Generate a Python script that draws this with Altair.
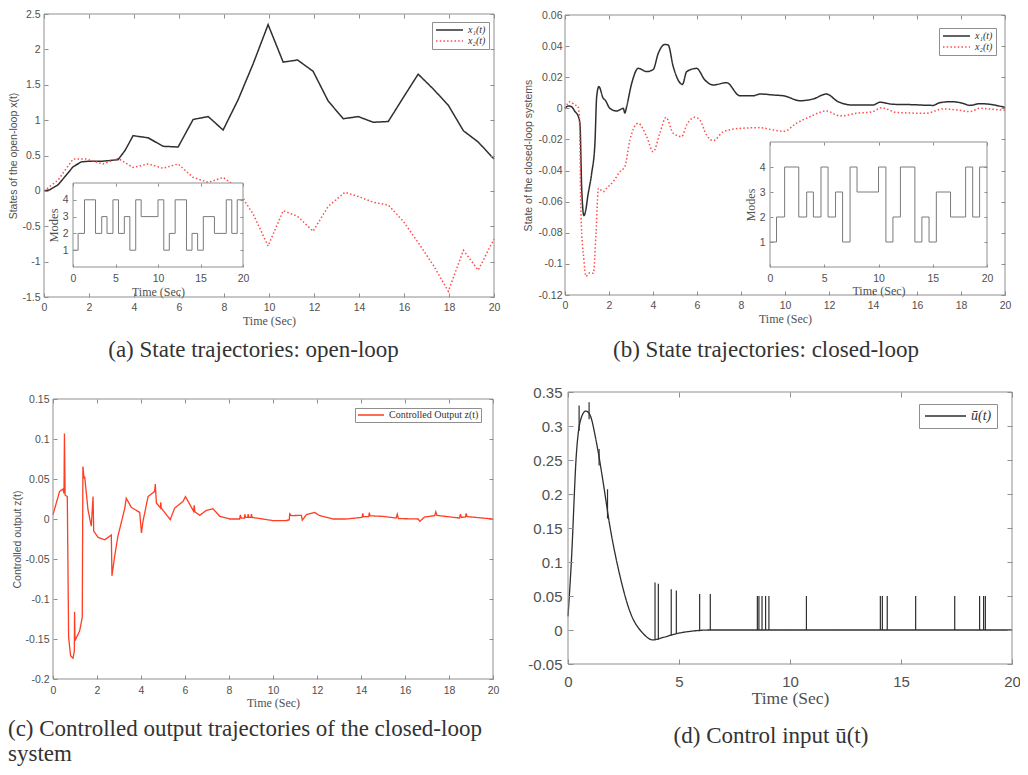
import altair as alt
import pandas as pd

# ---------------- data ----------------
# (a) open-loop states
a_t1 = [0, 0.25, 0.62, 0.99, 1.29, 1.66, 2.03, 2.62, 3.29, 3.6, 3.96, 4.63, 5.29, 5.96, 6.63, 7.3, 7.96, 8.63, 9.3, 9.96,
        10.63, 11.27, 11.96, 12.63, 13.3, 13.97, 14.63, 15.3, 15.97, 16.63, 17.3, 17.97, 18.64, 19.3, 20]
a_x1 = [0, 0.014, 0.084, 0.223, 0.34, 0.41, 0.42, 0.42, 0.44, 0.57, 0.78, 0.75, 0.63, 0.62, 1.01, 1.05, 0.86, 1.29, 1.80, 2.35,
        1.82, 1.85, 1.69, 1.27, 1.02, 1.05, 0.97, 0.98, 1.32, 1.65, 1.44, 1.21, 0.85, 0.69, 0.45]
a_t2 = [0, 0.62, 1.29, 1.88, 2.62, 3.29, 3.96, 4.63, 5.29, 5.96, 6.63, 7.3, 7.96, 8.63, 8.93, 9.3, 9.96, 10.63, 11.27, 11.96,
        12.63, 13.37, 13.97, 14.63, 15.3, 15.97, 16.63, 17.3, 17.97, 18.64, 19.3, 20]
a_x2 = [0, 0.15, 0.45, 0.45, 0.38, 0.46, 0.33, 0.38, 0.32, 0.38, 0.19, 0.12, 0.19, 0.04, -0.15, -0.33, -0.78, -0.28, -0.36, -0.57,
        -0.22, -0.02, -0.08, -0.16, -0.2, -0.43, -0.73, -1.05, -1.42, -0.84, -1.12, -0.68]

# (b) closed-loop states
b_t1 = [0, 0.15, 0.3, 0.45, 0.6, 0.68, 0.76, 0.86, 0.95, 1.03, 1.21, 1.36, 1.44, 1.54, 1.74, 1.82, 2.04, 2.35, 2.65, 2.72,
        2.8, 3.03, 3.33, 3.71, 4.01, 4.24, 4.54, 4.69, 4.92, 5.34, 5.53, 5.98, 6.36, 6.74, 7.34, 7.95, 8.55, 8.86, 9.46, 9.99,
        10.68, 11.28, 11.88, 12.41, 13.1, 14.0, 14.31, 14.91, 15.67, 16.73, 17.03, 17.56, 18.09, 18.4, 18.85, 19.3, 20]
b_x1 = [0, 0.0015, 0.001, -0.002, -0.005, -0.01, -0.052, -0.069, -0.065, -0.057, -0.042, -0.0225, 0.0075, 0.014, 0.0064,
        0.0054, 0, -0.0017, 0, -0.003, 0.001, 0.016, 0.0257, 0.0236, 0.025, 0.0354, 0.0411, 0.0407, 0.0268, 0.0154,
        0.0236, 0.0257, 0.0182, 0.015, 0.0165, 0.0081, 0.0081, 0.0092, 0.0086, 0.0079, 0.0049, 0.006, 0.0092, 0.0043,
        0.0021, 0.0021, 0.0039, 0.0026, 0.0024, 0.0019, 0.0036, 0.0043, 0.0032, 0.0019, 0.003, 0.0026, 0.0006]
b_t2 = [0, 0.23, 0.45, 0.58, 0.65, 0.73, 0.86, 0.95, 1.14, 1.29, 1.41, 1.52, 1.74, 1.89, 2.2, 2.5, 2.72, 2.95, 3.33, 3.71,
        4.01, 4.31, 4.59, 4.92, 5.3, 5.53, 5.9, 6.13, 6.43, 6.74, 7.2, 7.95, 8.86, 9.46, 9.95, 10.52, 11.13, 11.88, 12.49,
        13.25, 14.0, 14.38, 15.06, 16.42, 17.18, 17.86, 18.4, 18.85, 19.3, 20]
b_x2 = [0, 0.0043, 0.0021, 0.0015, -0.005, -0.07, -0.0975, -0.108, -0.1056, -0.106, -0.08, -0.0514, -0.0536, -0.0514,
        -0.047, -0.0407, -0.0375, -0.0204, -0.0096, -0.0182, -0.0279, -0.016, -0.0058, -0.016, -0.0182, -0.0107, -0.0058,
        -0.0075, -0.0171, -0.0208, -0.015, -0.0129, -0.0124, -0.0139, -0.0148, -0.0096, -0.0054, -0.0017, -0.0049,
        -0.0032, -0.0021, 0.0004, -0.0026, -0.0032, -0.0004, -0.0011, -0.0021, 0, -0.0004, -0.0013]

# (c) controlled output
c_t = [0, 0.15, 0.3, 0.45, 0.5, 0.52, 0.55, 0.65, 0.71, 0.8, 0.91, 0.97, 0.98, 1.0, 1.21, 1.33, 1.36, 1.41, 1.44, 1.59,
       1.74, 1.82, 1.85, 2.05, 2.35, 2.65, 2.68, 2.8, 2.95, 3.26, 3.33, 3.56, 3.94, 4.02, 4.09, 4.32, 4.62, 4.65, 4.7, 4.88,
       4.9, 4.92, 5.33, 5.53, 5.91, 6.02, 6.21, 6.39, 6.42, 6.45, 6.67, 6.97, 7.27, 7.58, 8.03, 8.48, 8.52, 8.55, 8.7, 8.72,
       8.75, 8.85, 8.87, 8.9, 9.0, 9.02, 9.05, 9.3, 10.0, 10.6, 10.74, 10.76, 10.83, 11.29, 11.33, 11.52, 11.89, 12.12, 12.73,
       13.33, 14.05, 14.08, 14.11, 14.35, 14.38, 14.41, 15.0, 15.6, 15.65, 15.7, 16.6, 16.67, 16.89, 17.35, 17.4, 17.45,
       18.48, 18.52, 18.56, 18.75, 18.78, 18.82, 20]
c_z = [0.0054, 0.02, 0.0345, 0.0374, 0.032, 0.107, 0.03, 0.028, -0.148, -0.171, -0.174, -0.165, -0.116, -0.152, -0.14,
       -0.123, 0.0656, 0.051, 0.053, 0.0116, -0.009, 0.028, -0.015, -0.023, -0.026, -0.02, -0.071, -0.047, -0.0216, 0.013,
       0.026, 0.0145, 0.0083, -0.0175, -0.003, 0.028, 0.0345, 0.0436, 0.02, 0.014, 0.021, 0.0137, -0.0008, 0.0137, 0.022,
       0.028, 0.0187, 0.0096, 0.017, 0.009, 0.0046, 0.0108, 0.0129, 0.0033, 0, 0, 0.005, 0.001, 0.001, 0.006,
       0.002, 0.002, 0.006, 0.002, 0.002, 0.006, 0.002, 0.001, -0.002, -0.002, -0.001, 0.0065, 0.0042, 0.0046, -0.0015,
       0.0054, 0.0083, 0.0042, 0, 0, 0.002, 0.007, 0.003, 0.003, 0.008, 0.004, 0.0033, 0.0012, 0.006, 0.0005,
       0, -0.003, 0.0025, 0.0042, 0.009, 0.0045, 0.0012, 0.006, 0.002, 0.0025, 0.007, 0.003, 0]

# (d) control input: smooth part and short spikes
d_t = [0, 0.15, 0.38, 0.6, 0.8, 0.98, 1.28, 1.58, 1.88, 2.33, 2.78, 3.38, 3.83, 4.28, 4.88, 5.63, 6.38, 8, 20]
d_u = [0.02, 0.1, 0.26, 0.3125, 0.322, 0.317, 0.276, 0.218, 0.154, 0.081, 0.028, -0.005, -0.0146, -0.011, -0.0054,
       -0.0015, 0, 0, 0]
d_spike_t = [0.5, 0.95, 1.4, 1.78, 3.92, 4.07, 4.65, 4.88, 5.93, 6.41, 8.53, 8.6, 8.74, 8.9, 9.05, 10.74, 14.07, 14.16,
             14.38, 15.66, 17.42, 18.54, 18.72, 18.8]
d_spike_lo = [0.293, 0.31, 0.242, 0.164, -0.0145, -0.0143, -0.008, -0.0054, -0.002, 0, 0, 0, 0, 0, 0, 0, 0, 0,
              0, 0, 0, 0, 0, 0]
d_spike_hi = [0.33, 0.335, 0.266, 0.207, 0.07, 0.068, 0.06, 0.058, 0.053, 0.053, 0.05, 0.05, 0.05, 0.05, 0.05, 0.05,
              0.05, 0.05, 0.05, 0.05, 0.05, 0.05, 0.05, 0.05]

# switching modes (insets)
m_t = [0, 0.6, 1.35, 2.65, 3.38, 4.0, 4.7, 5.35, 6.04, 6.69, 7.38, 8.02, 10.0, 10.68, 11.33, 12.02, 13.35, 14.0, 14.66,
       15.33, 16.64, 18.03, 18.68, 19.32, 20]
m_v = [1, 2, 4, 2, 3, 2, 4, 2, 3, 1, 4, 3, 4, 1, 2, 4, 1, 2, 1, 3, 2, 4, 2, 4, 4]

# labels
ab_series = ["x\u2081(t)", "x\u2082(t)"]
c_series = ["Controlled Output z(t)"]
d_series = ["\u016b(t)"]
captions = ["(a) State trajectories: open-loop", "(b) State trajectories: closed-loop",
            "(c) Controlled output trajectories of the closed-loop", "system", "(d) Control input \u016b(t)"]
time_title = "Time (Sec)"

# tick values
x_even = [0, 2, 4, 6, 8, 10, 12, 14, 16, 18, 20]
x_five = [0, 5, 10, 15, 20]
a_yticks = [-1.5, -1, -0.5, 0, 0.5, 1, 1.5, 2, 2.5]
b_yticks = [-0.12, -0.1, -0.08, -0.06, -0.04, -0.02, 0, 0.02, 0.04, 0.06]
c_yticks = [-0.2, -0.15, -0.1, -0.05, 0, 0.05, 0.1, 0.15]
d_yticks = [-0.05, 0, 0.05, 0.1, 0.15, 0.2, 0.25, 0.3, 0.35]
m_yticks = [1, 2, 3, 4]

assert len(a_t1) == len(a_x1) and len(a_t2) == len(a_x2)
assert len(b_t1) == len(b_x1) and len(b_t2) == len(b_x2)
assert len(c_t) == len(c_z) and len(d_t) == len(d_u)
assert len(d_spike_t) == len(d_spike_lo) == len(d_spike_hi) and len(m_t) == len(m_v)

# ---------------- layout / style ----------------
W, H, M = 1012, 759, 8
SANS, SERIF = "Liberation Sans", "Liberation Serif"
LBL_C, BOX_C, TXT_C = "#505050", "#8f8f8f", "#333333"
DARK, RED, ZRED, MODE_C = "#2f2f2f", "#ff4a4a", "#ff3d22", "#7a7a7a"
NUM = "(datum.value < 0 ? '-' : '') + format(abs(datum.value), '~g')"
CAP_FS = 23


def c(v):
    return v - M


GEO = {
    'a': dict(l=44, r=494, t=14, b=297, xd=[0, 20], yd=[-1.5, 2.5], xv=x_even, yv=a_yticks, lf=10.5, xpad=5, ypad=4,
              xt=time_title, xtf=12, xty=23, yt="States of the open-loop x(t)", ytf=10.5, ytx=-31, tk=4),
    'b': dict(l=565, r=1005, t=15, b=295, xd=[0, 20], yd=[-0.12, 0.06], xv=x_even, yv=b_yticks, lf=10.5, xpad=5,
              ypad=3, xt=time_title, xtf=12, xty=23, yt="State of the closed-loop systems", ytf=10.5, ytx=-37, tk=4),
    'c': dict(l=53, r=493, t=399, b=679, xd=[0, 20], yd=[-0.2, 0.15], xv=x_even, yv=c_yticks, lf=10.5, xpad=6,
              ypad=4, xt=time_title, xtf=12, xty=23, yt="Controlled output z(t)", ytf=10.5, ytx=-36, tk=4),
    'd': dict(l=568, r=1012, t=392, b=664, xd=[0, 20], yd=[-0.05, 0.35], xv=x_five, yv=d_yticks, lf=15, xpad=10,
              ypad=6, xt=time_title, xtf=17.5, xty=34, yt=None, tk=5),
    'ia': dict(l=73, r=243, t=183, b=267, xd=[0, 20], yd=[0, 5], xv=x_five, yv=m_yticks, lf=10.5, xpad=6, ypad=5,
               xt=time_title, xtf=12, xty=24, yt="Modes", ytfont=SERIF, ytf=12.5, ytx=-20, tk=3),
    'ib': dict(l=770, r=987, t=142, b=267, xd=[0, 20], yd=[0, 5], xv=x_five, yv=m_yticks, lf=10.5, xpad=6, ypad=5,
               xt=time_title, xtf=12, xty=23, yt="Modes", ytfont=SERIF, ytf=12, ytx=-20, tk=3),
}

LEG = {
    'a': dict(x=432, y=22, pad=3, sym=27, clip=10, rp=1, fs=10, style='italic'),
    'b': dict(x=939, y=28, pad=3, sym=27, clip=10, rp=1, fs=10, style='italic'),
    'c': dict(x=355, y=408, pad=2, sym=26, clip=10, rp=1, fs=10, style='normal'),
    'd': dict(x=919, y=404, pad=5, sym=41, clip=14, rp=1, fs=14, style='italic'),
}


def sx(k):
    g = GEO[k]
    return alt.Scale(domain=g['xd'], range=[c(g['l']), c(g['r'])], nice=False, zero=False)


def sy(k):
    g = GEO[k]
    return alt.Scale(domain=g['yd'], range=[c(g['b']), c(g['t'])], nice=False, zero=False)


def label_axes(k):
    g = GEO[k]
    common = dict(ticks=False, tickSize=0, domain=False, grid=False, labelFlush=False, labelOverlap=False,
                  labelFont=SANS, labelFontSize=g['lf'], labelColor=LBL_C, labelExpr=NUM, zindex=1)
    xa = alt.Axis(orient='bottom', offset=c(g['b']) - H, values=g['xv'], labelPadding=g['xpad'],
                  title=g['xt'], titleFont=SERIF, titleFontSize=g['xtf'], titleFontWeight='normal',
                  titleColor=LBL_C, titleX=c((g['l'] + g['r']) / 2), titleY=g['xty'], titleAlign='center',
                  titleBaseline='middle', titleAngle=0, **common)
    ykw = dict(orient='left', offset=-c(g['l']), values=g['yv'], labelPadding=g['ypad'], **common)
    if g['yt']:
        ykw.update(title=g['yt'], titleFont=g.get('ytfont', SANS), titleFontSize=g['ytf'], titleFontWeight='normal',
                   titleColor=LBL_C, titleX=g['ytx'], titleY=c((g['t'] + g['b']) / 2), titleAngle=270,
                   titleAlign='center', titleBaseline='middle')
    else:
        ykw.update(title=None)
    return xa, alt.Axis(**ykw)


def tick_axes(k, side):
    g = GEO[k]
    s = g['tk']
    common = dict(ticks=True, tickSize=s, tickColor=BOX_C, tickWidth=1, labels=False, domain=False, grid=False,
                  title=None, zindex=1)
    if side == 'bl':
        xa = alt.Axis(orient='bottom', offset=c(g['b']) - s - H, values=g['xv'], **common)
        ya = alt.Axis(orient='left', offset=-(c(g['l']) + s), values=g['yv'], **common)
    else:
        xa = alt.Axis(orient='top', offset=-(c(g['t']) + s), values=g['xv'], **common)
        ya = alt.Axis(orient='right', offset=c(g['r']) - s - W, values=g['yv'], **common)
    return xa, ya


def legend(k):
    L = LEG[k]
    return alt.Legend(orient='none', legendX=c(L['x']), legendY=c(L['y']), title=None, direction='vertical',
                      fillColor='white', strokeColor=BOX_C, padding=L['pad'], cornerRadius=0,
                      symbolType='stroke', symbolSize=L['sym'] ** 2, symbolStrokeWidth=1.5, clipHeight=L['clip'],
                      rowPadding=L['rp'], labelFont=SERIF, labelFontSize=L['fs'], labelFontStyle=L['style'],
                      labelColor=TXT_C, labelOffset=4, labelLimit=400, zindex=1)


def box_layer(k, side, fill_opacity=0.0, stroke_opacity=1.0):
    g = GEO[k]
    df = pd.DataFrame({'x0': [g['xd'][0]], 'x1': [g['xd'][1]], 'y0': [g['yd'][0]], 'y1': [g['yd'][1]]})
    xa, ya = tick_axes(k, side)
    return alt.Chart(df).mark_rect(fill='white', fillOpacity=fill_opacity, stroke=BOX_C, strokeWidth=1,
                                   strokeOpacity=stroke_opacity).encode(
        x=alt.X('x0:Q', scale=sx(k), axis=xa), x2='x1:Q',
        y=alt.Y('y0:Q', scale=sy(k), axis=ya), y2='y1:Q')


def series_layer(k, df, dom, rng, dashes, interp, sw):
    xa, ya = label_axes(k)
    leg = legend(k)
    return alt.Chart(df).mark_line(interpolate=interp, strokeWidth=sw).encode(
        x=alt.X('t:Q', scale=sx(k), axis=xa),
        y=alt.Y('v:Q', scale=sy(k), axis=ya),
        color=alt.Color('s:N', scale=alt.Scale(domain=dom, range=rng), legend=leg),
        strokeDash=alt.StrokeDash('s:N', scale=alt.Scale(domain=dom, range=dashes), legend=leg),
    )


def inset_layers(k):
    g = GEO[k]
    bg = pd.DataFrame({'x0': [g['xd'][0]], 'x1': [g['xd'][1]], 'y0': [g['yd'][0]], 'y1': [g['yd'][1]]})
    xa, ya = label_axes(k)
    back = alt.Chart(bg).mark_rect(fill='white', stroke=BOX_C, strokeWidth=1).encode(
        x=alt.X('x0:Q', scale=sx(k), axis=xa), x2='x1:Q',
        y=alt.Y('y0:Q', scale=sy(k), axis=ya), y2='y1:Q')
    mdf = pd.DataFrame({'t': m_t, 'm': m_v})
    bxa, bya = tick_axes(k, 'bl')
    step = alt.Chart(mdf).mark_line(interpolate='step-after', color=MODE_C, strokeWidth=1).encode(
        x=alt.X('t:Q', scale=sx(k), axis=bxa),
        y=alt.Y('m:Q', scale=sy(k), axis=bya))
    return [back, step, box_layer(k, 'tr', 0.0, 0.0)]


def caption(text, x, y, align):
    return alt.Chart(pd.DataFrame({'c': [text]})).mark_text(
        font=SERIF, fontSize=CAP_FS, color=TXT_C, align=align, baseline='middle').encode(
        x=alt.value(c(x)), y=alt.value(c(y)), text='c:N')


SOLID, DOTTED = [1, 0], [1.5, 2.2]

df_a = pd.concat([pd.DataFrame({'t': a_t1, 'v': a_x1, 's': ab_series[0]}),
                  pd.DataFrame({'t': a_t2, 'v': a_x2, 's': ab_series[1]})], ignore_index=True)
df_b = pd.concat([pd.DataFrame({'t': b_t1, 'v': b_x1, 's': ab_series[0]}),
                  pd.DataFrame({'t': b_t2, 'v': b_x2, 's': ab_series[1]})], ignore_index=True)
df_c = pd.DataFrame({'t': c_t, 'v': c_z, 's': c_series[0]})
df_d = pd.DataFrame({'t': d_t, 'v': d_u, 's': d_series[0]})
df_spk = pd.DataFrame({'t': d_spike_t, 'lo': d_spike_lo, 'hi': d_spike_hi})

layers = []
# panel (a)
layers += [series_layer('a', df_a, ab_series, [DARK, RED], [SOLID, DOTTED], 'linear', 1.5),
           box_layer('a', 'bl'), box_layer('a', 'tr', 0.0, 0.0)]
layers += inset_layers('ia')
# panel (b)
layers += [series_layer('b', df_b, ab_series, [DARK, RED], [SOLID, DOTTED], 'monotone', 1.5),
           box_layer('b', 'bl'), box_layer('b', 'tr', 0.0, 0.0)]
layers += inset_layers('ib')
# panel (c)
layers += [series_layer('c', df_c, c_series, [ZRED], [SOLID], 'linear', 1.3),
           box_layer('c', 'bl'), box_layer('c', 'tr', 0.0, 0.0)]
# panel (d)
layers += [series_layer('d', df_d, d_series, [DARK], [SOLID], 'monotone', 1.3),
           alt.Chart(df_spk).mark_rule(color=DARK, strokeWidth=1.2).encode(
               x=alt.X('t:Q', scale=sx('d'), axis=None),
               y=alt.Y('lo:Q', scale=sy('d'), axis=None), y2='hi:Q'),
           box_layer('d', 'bl'), box_layer('d', 'tr', 0.0, 0.0)]
# captions
layers += [caption(captions[0], 253.5, 350, 'center'),
           caption(captions[1], 766, 350, 'center'),
           caption(captions[2], 8, 729, 'left'),
           caption(captions[3], 8, 754, 'left'),
           caption(captions[4], 771, 736, 'center')]

chart = alt.layer(*layers).resolve_scale(
    x='independent', y='independent', color='independent', strokeDash='independent'
).resolve_legend(color='independent', strokeDash='independent').properties(
    width=W, height=H, padding=0, autosize=alt.AutoSizeParams(type='none')
).configure_view(stroke=None)

chart.save("out.html", embed_options={"renderer": "svg", "actions": False})
